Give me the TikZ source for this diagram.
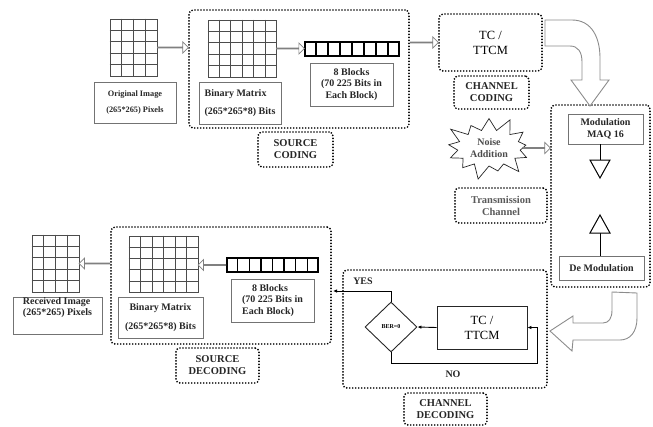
\documentclass[tikz,border=0pt]{standalone}
\usepackage{fontspec}
\setmainfont{Liberation Serif}
\usetikzlibrary{positioning, calc, arrows.meta, shapes.geometric, shapes.arrows, shapes.symbols}

\begin{document}
\begin{tikzpicture}[x=1pt, y=-1pt, >={Latex[length=4pt,width=3.5pt]},
    txt/.style={font=\bfseries\fontsize{10}{11.5}\selectfont, text=black!85},
    gridbox/.style={draw=black!70, line width=0.7pt, inner sep=0pt},
    gridline/.style={draw=black!70, line width=0.7pt},
    textbox/.style={draw=black!55, line width=0.8pt, inner sep=0pt, txt},
    dotbox/.style={draw=black, line width=1.9pt, line cap=round, dash pattern=on 0pt off 3pt, rounded corners=4pt, inner sep=0pt},
    labelbox/.style={dotbox, txt, font=\bfseries\fontsize{10.5}{12}\selectfont, align=center},
    strip/.style={draw=black, line width=1.8pt, inner sep=0pt},
    bigarrow/.style={draw=black!45, line width=0.9pt, fill=white},
    hollow/.style={to path={
        let \p1=(\tikztostart), \p2=(\tikztotarget),
            \n1={veclen(\x2-\x1,\y2-\y1)}, \n2={atan2(\y2-\y1,\x2-\x1)} in
        node[single arrow, draw=black!50, line width=0.7pt, fill=white, inner sep=0pt,
             minimum width=11pt, single arrow head extend=3pt, single arrow head indent=0pt,
             minimum height=\n1, rotate=\n2] at ($(\p1)!0.5!(\p2)$) {}
    }}]
    \useasboundingbox (0,0) rectangle (653,426);

    % Source coding
    \node[dotbox, minimum width=220, minimum height=118] (srccod) at (299,69) {};
    \node[gridbox, minimum width=47, minimum height=57] (orig) at (133.5,47.5) {};
    \node[textbox, minimum width=82, minimum height=41, align=center, font=\bfseries\fontsize{8.3}{9.5}\selectfont] (origtxt) at (135,102.5) {Original Image\\[7pt](265*265) Pixels};
    \node[gridbox, minimum width=68, minimum height=57] (binA) at (242,48.5) {};
    \node[textbox, minimum width=82, minimum height=42, align=left] (binAtxt) at (240,103) {Binary Matrix\\[6pt](265*265*8) Bits};
    \node[strip, minimum width=94, minimum height=14] (stripA) at (352,49) {};
    \node[textbox, minimum width=83, minimum height=43, align=center] (blkA) at (351.5,84.5) {8 Blocks\\(70 225 Bits in\\Each Block)};
    \node[labelbox, minimum width=75, minimum height=35] (srccodlbl) at (295.5,149.5) {SOURCE\\CODING};

    % Channel coding
    \node[dotbox, minimum width=103, minimum height=57, align=center, font=\fontsize{12.5}{15}\selectfont] (tcA) at (490.5,42.5) {TC /\\TTCM};
    \node[labelbox, minimum width=75, minimum height=33] (chcodlbl) at (491.5,92.5) {CHANNEL\\CODING};

    % Modulation
    \node[dotbox, minimum width=99, minimum height=182] (modem) at (600.5,196) {};
    \node[textbox, minimum width=75, minimum height=30, align=center] (mod) at (605.5,129) {Modulation\\MAQ 16};
    \node[textbox, minimum width=85, minimum height=24] (demod) at (601.5,268) {De Modulation};
    \coordinate (tdown) at (600,160);
    \coordinate (tup) at (600,233);
    \draw[line width=1pt] (tdown |- mod.south) -- (tdown);
    \draw[line width=1pt, fill=white] (tdown) ++(-10,0) -- ++(20,0) -- ++(-10,18) -- cycle;
    \draw[line width=1pt] (tup) -- (tup |- demod.north);
    \draw[line width=1pt, fill=white] (tup) ++(-10,0) -- ++(20,0) -- ++(-10,-18) -- cycle;

    % Transmission channel
    \node[starburst, draw=black!85, line width=0.7pt, fill=white, minimum width=64pt, minimum height=68pt, starburst point height=16pt, starburst points=13, align=center, txt, text=black!70] (noise) at (489,148) {Noise\\Addition};
    \node[labelbox, minimum width=92, minimum height=35, text=black!65] (trans) at (501,205.5) {Transmission\\Channel};

    % Channel decoding
    \node[dotbox, minimum width=204, minimum height=118] (chdec) at (445,329) {};
    \node[diamond, draw=black!85, line width=0.9pt, minimum width=52, minimum height=50, inner sep=0pt, font=\bfseries\fontsize{6}{7}\selectfont] (ber) at (391,327) {BER=0};
    \node[draw=black!85, line width=0.8pt, minimum width=90, minimum height=43, align=center, font=\fontsize{12.5}{15}\selectfont] (tcB) at (482,327.5) {TC /\\TTCM};
    \coordinate (yesend) at (333,291);
    \coordinate (noturn) at (537,363);
    \draw[->, line width=0.9pt] (tcB.west) -- (ber.east);
    \draw[->, line width=0.9pt] (ber.north) |- (yesend);
    \draw[->, line width=0.9pt] (ber.south) |- (noturn) |- (tcB.east);
    \node[txt] (yes) at (363,281) {YES};
    \node[txt] (no) at (453,374) {NO};
    \node[labelbox, minimum width=83, minimum height=32] (chdeclbl) at (445.5,409) {CHANNEL\\DECODING};

    % Source decoding
    \node[dotbox, minimum width=220, minimum height=117] (srcdec) at (221,285.5) {};
    \node[gridbox, minimum width=47, minimum height=57] (rec) at (55.5,263.5) {};
    \node[textbox, minimum width=89, minimum height=37, align=left] (rectxt) at (57.5,315.5) {Received Image\\(265*265) Pixels\\[6pt]};
    \node[gridbox, minimum width=69, minimum height=56] (binB) at (163.5,264) {};
    \node[textbox, minimum width=85, minimum height=41, align=center] (binBtxt) at (160.5,317.5) {Binary Matrix\\[7pt](265*265*8) Bits};
    \node[strip, minimum width=91, minimum height=14] (stripB) at (272.5,265) {};
    \node[textbox, minimum width=83, minimum height=43, align=left] (blkB) at (272.5,300.5) {\quad 8 Blocks\\(70 225 Bits in\\Each Block)};
    \node[labelbox, minimum width=83, minimum height=35] (srcdeclbl) at (217.5,365.5) {SOURCE\\DECODING};

    % Grids and blocks
    \foreach \g/\c in {orig/4, binA/6, rec/4, binB/6} {
        \pgfmathtruncatemacro{\cl}{\c-1}
        \foreach \i in {1,...,\cl}
            \draw[gridline] ($(\g.north west)!\i/\c!(\g.north east)$) -- ($(\g.south west)!\i/\c!(\g.south east)$);
        \foreach \j in {1,...,4}
            \draw[gridline] ($(\g.north west)!\j/5!(\g.south west)$) -- ($(\g.north east)!\j/5!(\g.south east)$);
    }
    \foreach \s in {stripA, stripB}
        \foreach \i in {1,...,7}
            \draw[line width=1.4pt] ($(\s.north west)!\i/8!(\s.north east)$) -- ($(\s.south west)!\i/8!(\s.south east)$);

    % Hollow arrows
    \path[hollow] (orig.east) to (srccod.west |- orig.east);
    \path[hollow] (binA.east) to (stripA.west |- binA.east);
    \path[hollow] (srccod.east |- tcA) to (tcA.west);
    \path[hollow] (noise.east) to (modem.west |- noise.east);
    \path[hollow] (srcdec.west |- rec) to (rec.east);
    \path[hollow] (stripB.west) to (binB.east |- stripB.west);

    % Curved arrows
    \draw[bigarrow] (545,20) -- (572,20) .. controls (592,20) and (600,38) .. (600,58) -- (600,80) -- (609,80) -- (590,106) -- (571,80) -- (582,80) -- (582,62) .. controls (582,52) and (578,46) .. (570,46) -- (545,46) -- cycle;
    \draw[bigarrow] (612,292) -- (637,293) -- (637,318) .. controls (637,332) and (630,340) .. (620,340) -- (573,340) -- (572,351) -- (550,331) -- (573,316) -- (573,323) -- (603,323) .. controls (609,323) and (612,318) .. (612,310) -- cycle;
\end{tikzpicture}
\end{document}
